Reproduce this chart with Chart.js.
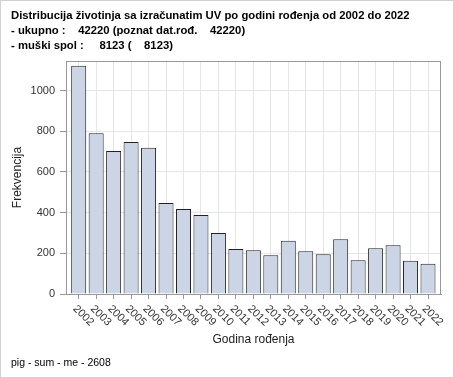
<!DOCTYPE html>
<html>
<head>
<meta charset="utf-8">
<script src="https://cdn.jsdelivr.net/npm/chart.js@4"></script>
<style>
	body { margin: 0; background: #fff; }
	#wrap { width: 454px; height: 378px; }
</style>
</head>
<body>
<div id="wrap"><canvas id="godinaChart" width="454" height="378"></canvas></div>
<script>
// Distribucija po godini rođenja
const godine = [2002, 2003, 2004, 2005, 2006, 2007, 2008, 2009, 2010, 2011, 2012,
	2013, 2014, 2015, 2016, 2017, 2018, 2019, 2020, 2021, 2022];
const frekvencije = [1122, 790, 703, 747, 719, 447, 418, 388, 300, 221, 215,
	190, 262, 210, 195, 269, 166, 225, 239, 164, 149];
const yTicks = [0, 200, 400, 600, 800, 1000];

const naslov = [
	"Distribucija životinja sa izračunatim UV po godini rođenja od 2002 do 2022",
	"- ukupno :    42220 (poznat dat.rođ.    42220)",
	"- muški spol :     8123 (    8123)",
];
const podnozje = "pig - sum - me - 2608";

const fontFam = "'Liberation Sans', Arial, sans-serif";

// x labels are drawn rotated clockwise, which chart.js can't do on its own
const xLabelsPlugin = {
	id: "xLabels",
	afterDraw(chart) {
		const ctx = chart.ctx;
		const xs = chart.scales.x;
		const area = chart.chartArea;
		ctx.save();
		ctx.font = "11px " + fontFam;
		ctx.fillStyle = "#333";
		ctx.textAlign = "left";
		ctx.textBaseline = "middle";
		godine.forEach((g) => {
			const px = xs.getPixelForValue(g);
			ctx.save();
			ctx.translate(px - 4, area.bottom + 13);
			ctx.rotate(Math.PI / 4);
			ctx.fillText(String(g), 0, 0);
			ctx.restore();
		});
		// plot frame
		ctx.strokeStyle = "#999";
		ctx.lineWidth = 1;
		ctx.strokeRect(area.left + 0.5, area.top + 0.5, area.right - area.left - 1, area.bottom - area.top);
		// outer frame
		ctx.strokeStyle = "#d0d0d0";
		ctx.strokeRect(0.5, 0.5, chart.width - 1, chart.height - 1);
		ctx.restore();
	},
};

const godinaData = {
	datasets: [
		{
			label: "Frekvencija",
			data: godine.map((g, i) => ({ x: g, y: frekvencije[i] })),
			backgroundColor: "rgb(203, 213, 230)",
			borderColor: "#222",
			borderWidth: 1,
			borderSkipped: "start",
			barPercentage: 0.86,
			categoryPercentage: 1,
		},
	],
};

const godinaConfig = {
	type: "bar",
	data: godinaData,
	plugins: [xLabelsPlugin],
	options: {
		responsive: false,
		animation: false,
		layout: { padding: { left: 11, right: 13, top: 0, bottom: 0 } },
		plugins: {
			legend: { display: false },
			tooltip: { enabled: false },
			title: {
				display: true,
				text: naslov,
				align: "start",
				color: "#000",
				font: { family: fontFam, size: 11.3, weight: "bold", lineHeight: "15px" },
				padding: { top: 8.5, bottom: 7.5 },
			},
			subtitle: {
				display: true,
				position: "bottom",
				text: podnozje,
				align: "start",
				color: "#000",
				font: { family: fontFam, size: 10.5, lineHeight: "13px" },
				padding: { top: 4, bottom: 8 },
			},
		},
		scales: {
			x: {
				type: "linear",
				offset: false,
				min: 2001.273,
				max: 2022.744,
				afterBuildTicks(scale) {
					scale.ticks = godine.map((g) => ({ value: g }));
				},
				afterFit(scale) {
					scale.height = 59;
				},
				ticks: { display: false, stepSize: 1 },
				grid: { offset: false, color: "#e6e6e6", tickColor: "#999", tickLength: 5 },
				border: { color: "#999" },
				title: {
					display: true,
					text: "Godina rođenja",
					color: "#222",
					font: { family: fontFam, size: 12, lineHeight: "14px" },
					padding: { top: 0, bottom: 6 },
				},
			},
			y: {
				min: 0,
				max: 1145,
				afterBuildTicks(scale) {
					scale.ticks = yTicks.map((v) => ({ value: v }));
				},
				afterFit(scale) {
					scale.width = 55;
				},
				ticks: {
					color: "#333",
					padding: 5,
					font: { family: fontFam, size: 11 },
					callback: (v) => String(v),
				},
				grid: { color: "#e6e6e6", tickColor: "#999", tickLength: 6 },
				border: { color: "#999" },
				title: {
					display: true,
					text: "Frekvencija",
					color: "#222",
					font: { family: fontFam, size: 12, lineHeight: "14px" },
					padding: { top: 0, bottom: 0 },
				},
			},
		},
	},
};

const GodinaChart = new Chart(document.getElementById("godinaChart"), godinaConfig);
</script>
</body>
</html>
